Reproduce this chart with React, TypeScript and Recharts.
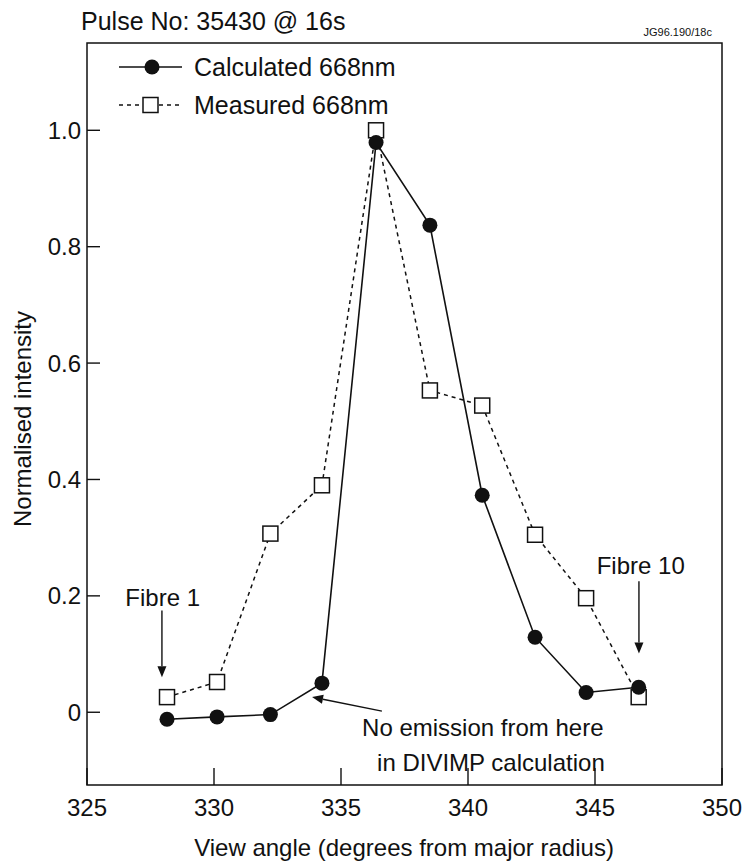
import React from 'react'
import {
  ComposedChart, Line, XAxis, YAxis, Legend,
  ReferenceArea, ReferenceLine, ReferenceDot,
} from 'recharts'

if (typeof document !== 'undefined') document.body.style.margin = '0'

// ─── Style ───────────────────────────────────────────────────────────────────
const FONT = '"Liberation Sans", Arial, Helvetica, sans-serif'
const INK = '#111'
const W = 746
const H = 862

// ─── Data ────────────────────────────────────────────────────────────────────
const angles     = [328.15, 330.12, 332.22, 334.25, 336.38, 338.5, 340.56, 342.64, 344.65, 346.72]
const calculated = [-0.012, -0.008, -0.004, 0.05, 0.979, 0.837, 0.373, 0.129, 0.034, 0.043]
const measured   = [0.026, 0.052, 0.307, 0.39, 1.0, 0.553, 0.527, 0.305, 0.196, 0.026]

const xTicks = [325, 330, 335, 340, 345, 350]
const yTicks = [0, 0.2, 0.4, 0.6, 0.8, 1.0]
const X_DOMAIN: [number, number] = [325, 350]
const Y_DOMAIN: [number, number] = [-0.125, 1.15]

const seriesNames = ['Calculated 668nm', 'Measured 668nm']

// annotation texts + arrows, in data coordinates
const notes = [
  { x: 327.98, y: 0.198, text: 'Fibre 1', anchor: 'middle' },
  { x: 346.8, y: 0.253, text: 'Fibre 10', anchor: 'middle' },
  { x: 335.83, y: -0.026, text: 'No emission from here', anchor: 'start' },
  { x: 336.42, y: -0.086, text: 'in DIVIMP calculation', anchor: 'start' },
]
const arrows = [
  { x1: 327.95, y1: 0.175, x2: 327.95, y2: 0.06 },
  { x1: 346.73, y1: 0.225, x2: 346.73, y2: 0.101 },
  { x1: 336.61, y1: 0.002, x2: 333.86, y2: 0.026 },
]

const data = angles.map((a, i) => ({ angle: a, calc: calculated[i], meas: measured[i] }))

// ─── Pieces ──────────────────────────────────────────────────────────────────
function XTick({ x, y, payload }: any) {
  return (
    <g>
      <line x1={x} y1={y} x2={x} y2={y - 17} stroke={INK} strokeWidth={1.4} />
      <text x={x} y={y + 31} textAnchor="middle" fontSize={24} fontFamily={FONT} fill={INK}>{payload.value}</text>
    </g>
  )
}

function YTick({ x, y, payload }: any) {
  const v = payload.value as number
  return (
    <g>
      <line x1={x} y1={y} x2={x + 13} y2={y} stroke={INK} strokeWidth={1.4} />
      <text x={x - 6} y={y + 8.6} textAnchor="end" fontSize={24} fontFamily={FONT} fill={INK}>
        {v === 0 ? '0' : v.toFixed(1)}
      </text>
    </g>
  )
}

function Square({ cx, cy, index }: any) {
  return <rect key={index} x={cx - 7.5} y={cy - 7.5} width={15} height={15} fill="#fff" stroke={INK} strokeWidth={1.5} />
}

function Arrow({ x1, y1, x2, y2 }: any) {
  const a = Math.atan2(y2 - y1, x2 - x1)
  const L = 11, hw = 4.5
  const bx = x2 - L * Math.cos(a), by = y2 - L * Math.sin(a)
  const pts = `${x2},${y2} ${bx - hw * Math.sin(a)},${by + hw * Math.cos(a)} ${bx + hw * Math.sin(a)},${by - hw * Math.cos(a)}`
  return (
    <g>
      <line x1={x1} y1={y1} x2={bx} y2={by} stroke={INK} strokeWidth={1.4} />
      <polygon points={pts} fill={INK} />
    </g>
  )
}

function NoteText(text: string, anchor: string) {
  return ({ cx, cy }: any) => (
    <text x={cx} y={cy + 8.6} textAnchor={anchor as any} fontSize={24} fontFamily={FONT} fill={INK}>{text}</text>
  )
}

function LegendBox() {
  return (
    <svg width={320} height={80} style={{ overflow: 'visible' }}>
      <line x1={0} y1={17} x2={63} y2={17} stroke={INK} strokeWidth={1.6} />
      <circle cx={33} cy={17} r={7.5} fill={INK} />
      <text x={75} y={17 + 9} fontSize={25} fontFamily={FONT} fill={INK}>{seriesNames[0]}</text>
      <line x1={0} y1={55} x2={63} y2={55} stroke={INK} strokeWidth={1.5} strokeDasharray="4 4" />
      <rect x={24} y={47.5} width={15} height={15} fill="#fff" stroke={INK} strokeWidth={1.5} />
      <text x={75} y={55 + 9} fontSize={25} fontFamily={FONT} fill={INK}>{seriesNames[1]}</text>
    </svg>
  )
}

export default function App() {
  return (
    <div style={{ position: 'relative', width: W, height: H, background: '#fff' }}>
      <ComposedChart width={W} height={H} data={data} margin={{ top: 43, right: 24, bottom: 0, left: 0 }}>
        <XAxis
          type="number" dataKey="angle" domain={X_DOMAIN} ticks={xTicks}
          height={77} tickSize={0} tickMargin={0} axisLine={false} tick={<XTick />}
        />
        <YAxis
          type="number" domain={Y_DOMAIN} ticks={yTicks}
          width={87} tickSize={0} tickMargin={0} axisLine={false} tick={<YTick />}
        />
        <Legend
          layout="horizontal" verticalAlign="middle" align="center"
          wrapperStyle={{ top: 50, left: 119, width: 320, height: 80 }}
          content={() => <LegendBox />}
        />
        <ReferenceArea x1={X_DOMAIN[0]} x2={X_DOMAIN[1]} y1={Y_DOMAIN[0]} y2={Y_DOMAIN[1]} fill="none" stroke={INK} strokeWidth={1.5} />

        <Line
          dataKey="meas" name={seriesNames[1]} stroke={INK} strokeWidth={1.5} strokeDasharray="4 4"
          dot={(p: any) => <Square key={p.index} {...p} />} activeDot={false} isAnimationActive={false}
        />
        <Line
          dataKey="calc" name={seriesNames[0]} stroke={INK} strokeWidth={1.6}
          dot={{ r: 7.5, fill: INK, stroke: INK, strokeWidth: 0 }} activeDot={false} isAnimationActive={false}
        />

        {arrows.map((a, i) => (
          <ReferenceLine key={'a' + i} segment={[{ x: a.x1, y: a.y1 }, { x: a.x2, y: a.y2 }]} shape={Arrow} />
        ))}
        {notes.map((n, i) => (
          <ReferenceDot key={'n' + i} x={n.x} y={n.y} r={0} shape={NoteText(n.text, n.anchor)} />
        ))}
      </ComposedChart>

      <svg width={W} height={H} style={{ position: 'absolute', left: 0, top: 0, pointerEvents: 'none' }}>
        <text x={81} y={30} fontSize={25} fontFamily={FONT} fill={INK}>Pulse No: 35430 @ 16s</text>
        <text x={712} y={36} textAnchor="end" fontSize={11} fontFamily={FONT} fill={INK}>JG96.190/18c</text>
        <text x={404} y={856} textAnchor="middle" fontSize={24} fontFamily={FONT} fill={INK}>
          View angle (degrees from major radius)
        </text>
        <text transform="translate(31,419) rotate(-90)" textAnchor="middle" fontSize={24} fontFamily={FONT} fill={INK}>
          Normalised intensity
        </text>
      </svg>
    </div>
  )
}
